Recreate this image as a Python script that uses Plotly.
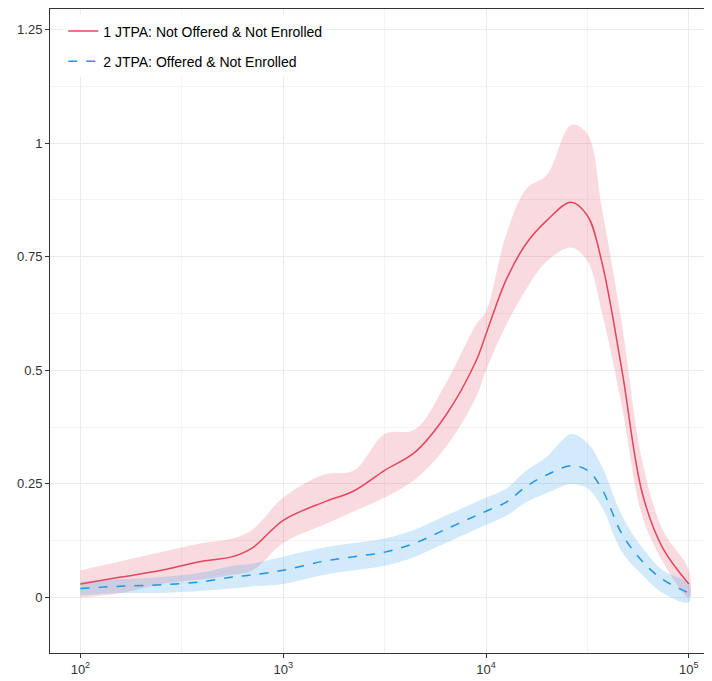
import numpy as np
import plotly.graph_objects as go

# log10 of x positions
logx = [2.0, 2.2, 2.4, 2.6, 2.75, 2.85, 3.0, 3.2, 3.35, 3.5, 3.65, 3.8, 3.95, 4.0,
        4.1, 4.2, 4.3, 4.42, 4.5, 4.57, 4.67, 4.77, 4.87, 5.0]
red = [0.03, 0.045, 0.06, 0.08, 0.09, 0.11, 0.17, 0.21, 0.235, 0.28, 0.32, 0.40, 0.52, 0.58,
       0.70, 0.78, 0.83, 0.87, 0.84, 0.74, 0.50, 0.23, 0.11, 0.03]
red_lo = [0.0, 0.01, 0.03, 0.04, 0.05, 0.06, 0.12, 0.16, 0.19, 0.22, 0.26, 0.33, 0.44, 0.50,
          0.60, 0.68, 0.74, 0.77, 0.74, 0.63, 0.42, 0.18, 0.08, 0.0]
red_hi = [0.06, 0.08, 0.10, 0.12, 0.13, 0.15, 0.22, 0.27, 0.28, 0.36, 0.37, 0.47, 0.60, 0.63,
          0.80, 0.90, 0.93, 1.04, 1.02, 0.86, 0.60, 0.30, 0.15, 0.06]
blue = [0.02, 0.025, 0.028, 0.035, 0.045, 0.05, 0.06, 0.08, 0.09, 0.10, 0.12, 0.15, 0.18, 0.19,
        0.21, 0.245, 0.27, 0.29, 0.28, 0.24, 0.14, 0.08, 0.04, 0.01]
blue_lo = [0.005, 0.01, 0.01, 0.015, 0.02, 0.025, 0.03, 0.05, 0.06, 0.07, 0.09, 0.12, 0.15, 0.16,
           0.18, 0.21, 0.23, 0.25, 0.24, 0.20, 0.10, 0.05, 0.01, -0.01]
blue_hi = [0.035, 0.04, 0.045, 0.055, 0.07, 0.075, 0.09, 0.11, 0.12, 0.13, 0.15, 0.18, 0.21, 0.22,
           0.24, 0.28, 0.31, 0.36, 0.34, 0.29, 0.18, 0.11, 0.06, 0.03]

x = [10 ** v for v in logx]
fig = go.Figure()

def band(lo, hi, color):
    fig.add_trace(go.Scatter(x=x + x[::-1], y=hi + lo[::-1], fill="toself", fillcolor=color,
                             line=dict(width=0), mode="lines", showlegend=False,
                             hoverinfo="skip", line_shape="spline"))

band(red_lo, red_hi, "rgba(226,69,96,0.2)")
band(blue_lo, blue_hi, "rgba(30,150,230,0.2)")
fig.add_trace(go.Scatter(x=x, y=red, mode="lines", line=dict(color="#e2455f", width=1.5, shape="spline"),
                         name="1 JTPA: Not Offered & Not Enrolled", legendgroup="a"))
fig.add_trace(go.Scatter(x=x, y=blue, mode="lines",
                         line=dict(color="#1e96e6", width=1.5, dash="dash", shape="spline"),
                         name="2 JTPA: Offered & Not Enrolled", legendgroup="b"))

grid = "#ebebeb"
fig.update_layout(
    width=712, height=681, plot_bgcolor="white", paper_bgcolor="white",
    margin=dict(l=42, r=8, t=1, b=36),
    font=dict(family="Liberation Sans, Arial", size=13, color="#333"),
    legend=dict(x=0.02, y=0.99, xanchor="left", yanchor="top", bgcolor="white",
                font=dict(size=14, color="black"), tracegroupgap=9),
    xaxis=dict(type="log", range=[1.85, 5.114], tickvals=[100, 1000, 10000, 100000],
               ticktext=["10<sup>2</sup>", "10<sup>3</sup>", "10<sup>4</sup>", "10<sup>5</sup>"],
               showgrid=True, gridcolor=grid, gridwidth=1.2,
               minor=dict(tickvals=[10 ** 2.5, 10 ** 3.5, 10 ** 4.5], showgrid=True,
                          gridcolor="#f3f3f3", gridwidth=0.8),
               showline=True, linecolor="#333", mirror=True, ticks="outside", ticklen=4,
               tickcolor="#333", zeroline=False),
    yaxis=dict(range=[-0.122, 1.295], tickvals=[0, 0.25, 0.5, 0.75, 1, 1.25],
               ticktext=["0", "0.25", "0.5", "0.75", "1", "1.25"],
               showgrid=True, gridcolor=grid, gridwidth=1.2,
               minor=dict(tickvals=[0.125, 0.375, 0.625, 0.875, 1.125], showgrid=True,
                          gridcolor="#f3f3f3", gridwidth=0.8),
               showline=True, linecolor="#333", mirror=True, ticks="outside", ticklen=4,
               tickcolor="#333", zeroline=False),
)
fig.write_html("out.html")
